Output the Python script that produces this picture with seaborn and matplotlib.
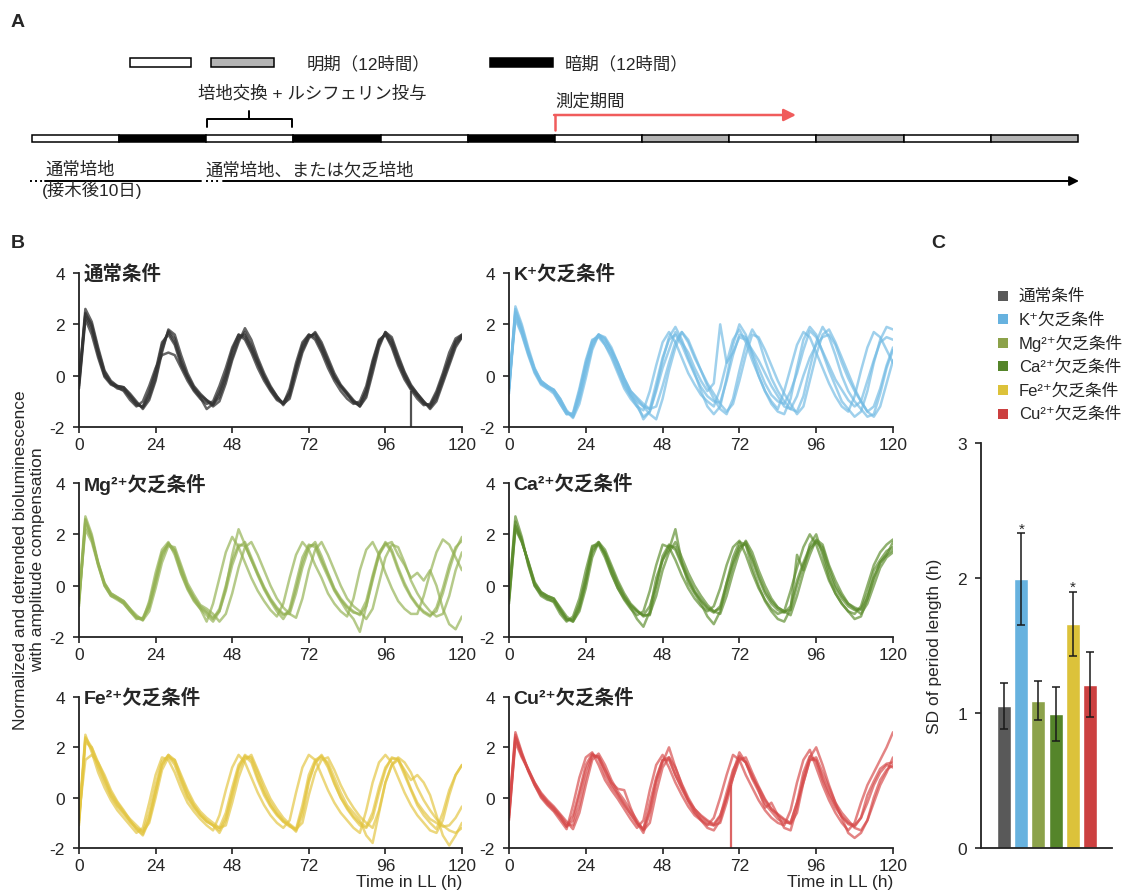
import numpy as np
import pandas as pd
import matplotlib
matplotlib.use("Agg")
import matplotlib.pyplot as plt
from matplotlib.patches import Rectangle
import seaborn as sns

sns.set_style("ticks")
FONT_LIST = ['Liberation Sans', 'DejaVu Sans', 'Noto Sans CJK JP']
plt.rcParams['font.family'] = FONT_LIST
plt.rcParams['axes.unicode_minus'] = False

# ---------------------------------------------------------------- data
TIME_H = np.arange(0, 121, 2)  # sampling every 2 h in constant light

conditions = ['通常条件', 'K⁺欠乏条件', 'Mg²⁺欠乏条件',
              'Ca²⁺欠乏条件', 'Fe²⁺欠乏条件', 'Cu²⁺欠乏条件']
trace_colors = ['#333333', '#72bbe4', '#93b152', '#5b8c2c', '#e3c540', '#d64a4a']
bar_colors = ['#595959', '#67b2df', '#8ca24a', '#55852a', '#dcc23a', '#cc4040']

normal_traces = [
    [-0.3, 2.45, 1.9, 0.9, 0.05, -0.3, -0.42, -0.5, -0.8, -1.1,
     -1.22, -0.7, 0.1, 1.2, 1.7, 1.3, 0.5, -0.05, -0.5, -0.8,
     -1.0, -1.15, -0.7, 0.0, 0.9, 1.5, 1.6, 1.1, 0.5, -0.05,
     -0.5, -0.85, -1.08, -0.7, 0.3, 1.1, 1.55, 1.6, 1.1, 0.5,
     -0.05, -0.45, -0.75, -1.0, -1.1, -0.6, 0.4, 1.3, 1.65, 1.3,
     0.6, 0.0, -0.45, -0.75, -1.05, -1.2, -0.8, -0.1, 0.6, 1.3,
     1.55],
    [-0.5, 2.2, 1.6, 0.7, -0.05, -0.35, -0.45, -0.6, -0.95, -1.2,
     -1.0, -0.4, 0.3, 0.8, 0.9, 0.8, 0.3, -0.2, -0.6, -0.9,
     -1.1, -1.0, -0.4, 0.3, 1.1, 1.6, 1.4, 0.9, 0.3, -0.2,
     -0.6, -0.95, -1.1, -0.5, 0.5, 1.3, 1.6, 1.4, 0.9, 0.3,
     -0.2, -0.6, -0.9, -1.1, -1.0, -0.4, 0.6, 1.4, 1.6, 1.1,
     0.4, -0.15, -0.55, -0.9, -1.15, -1.1, -0.6, 0.1, 0.9, 1.45,
     1.6],
    [-0.2, 2.6, 2.1, 1.1, 0.2, -0.2, -0.4, -0.45, -0.7, -1.0,
     -1.3, -0.95, -0.2, 0.9, 1.8, 1.6, 0.8, 0.1, -0.4, -0.7,
     -0.95, -1.2, -1.0, -0.3, 0.6, 1.3, 1.85, 1.4, 0.7, 0.1,
     -0.4, -0.8, -1.1, -0.9, 0.0, 0.9, 1.45, 1.7, 1.3, 0.7,
     0.1, -0.35, -0.65, -0.95, -1.2, -0.85, 0.1, 1.1, 1.7, 1.5,
     0.8, 0.15, -0.35, -0.7, -1.0, -1.3, -1.0, -0.3, 0.4, 1.1,
     1.5],
    [-0.4, 2.3, 1.8, 0.8, 0.0, -0.3, -0.5, -0.55, -0.85, -1.15,
     -1.2, -0.6, 0.2, 1.3, 1.6, 1.2, 0.4, -0.1, -0.55, -0.85,
     -1.3, -1.1, -0.6, 0.1, 1.0, 1.6, 1.5, 1.0, 0.45, -0.1,
     -0.55, -0.9, -1.05, -0.65, 0.35, 1.2, 1.6, 1.5, 1.0, 0.45,
     -0.1, -0.4, -0.7, -1.05, -1.15, -0.55, 0.5, 1.35, 1.6, 1.2,
     0.5, -0.05, -0.5, -0.8, -1.1, -1.15, -0.7, 0.0, 0.7, 1.35,
     1.6],
    [-0.2, 2.4, 2.0, 1.0, 0.15, -0.25, -0.4, -0.45, -0.75, -1.05,
     -1.25, -0.85, -0.1, 1.0, 1.75, 1.45, 0.6, 0.0, -0.45, -0.75,
     -0.95, -1.1, -0.85, -0.15, 0.7, 1.4, 1.7, 1.2, 0.6, 0.0,
     -0.45, -0.8, -1.15, -0.8, 0.2, 1.0, 1.5, 1.65, 1.2, 0.6,
     0.0, -0.4, -0.7, -1.0, -1.2, -0.75, 0.25, 1.2, 1.7, 1.4,
     0.7, 0.1, -0.4, -0.7, -1.0, -1.25, -0.9, -0.2, 0.5, 1.2,
     1.5],
]

k_traces = [
    [-0.5, 2.45, 1.75, 0.9, 0.2, -0.3, -0.45, -0.6, -1.0, -1.45,
     -1.55, -0.7, 0.4, 1.3, 1.55, 1.3, 0.9, 0.3, -0.3, -0.75,
     -1.0, -1.2, -1.3, -0.3, 0.7, 1.4, 1.6, 1.2, 0.6, 0.05,
     -0.45, -0.8, -1.0, -1.05, -0.2, 0.8, 1.6, 1.5, 0.9, 0.3,
     -0.3, -0.75, -1.0, -1.1, -0.6, 0.1, 1.0, 1.75, 1.5, 0.95,
     0.4, -0.15, -0.55, -0.95, -1.2, -1.0, -0.2, 0.6, 1.3, 1.5,
     1.4],
    [-0.4, 2.6, 1.9, 1.0, 0.25, -0.25, -0.4, -0.65, -1.1, -1.5,
     -1.45, -0.5, 0.6, 1.4, 1.5, 1.2, 0.7, 0.1, -0.5, -0.9,
     -1.2, -1.35, -0.6, 0.4, 1.3, 1.7, 1.3, 0.7, 0.1, -0.35,
     -0.75, -1.0, -1.2, -0.5, 0.5, 1.4, 1.8, 1.3, 0.6, 0.0,
     -0.6, -1.0, -1.3, -0.6, 0.3, 1.2, 1.7, 1.5, 0.9, 0.3,
     -0.3, -0.8, -1.2, -1.4, -0.8, 0.2, 1.1, 1.7, 1.5, 1.0,
     0.5],
    [-0.6, 2.3, 1.65, 0.85, 0.15, -0.3, -0.5, -0.55, -0.9, -1.35,
     -1.6, -0.95, 0.1, 1.1, 1.6, 1.45, 1.0, 0.5, -0.1, -0.6,
     -0.85, -1.1, -1.3, -1.2, -0.4, 0.5, 1.3, 1.7, 1.3, 0.7,
     0.2, -0.3, -0.7, -1.1, -1.4, -1.1, -0.2, 0.8, 1.6, 1.5,
     1.0, 0.4, -0.2, -0.7, -1.1, -1.5, -1.2, -0.2, 0.8, 1.6,
     1.8, 1.3, 0.7, 0.1, -0.5, -1.0, -1.4, -1.6, -1.2, -0.3,
     0.6],
    [-0.3, 2.2, 1.6, 0.8, 0.1, -0.35, -0.5, -0.7, -1.1, -1.5,
     -1.5, -0.6, 0.5, 1.35, 1.6, 1.2, 0.8, 0.2, -0.4, -0.8,
     -1.2, -1.6, -1.4, -0.5, 0.6, 1.5, 1.9, 1.4, 0.7, 0.1,
     -0.6, -1.2, -1.5, -1.2, -0.1, 1.2, 2.0, 1.6, 0.8, 0.0,
     -0.6, -1.1, -1.4, -1.5, -0.9, 0.3, 1.4, 1.9, 1.6, 0.9,
     0.2, -0.4, -1.0, -1.3, -1.6, -1.4, -0.6, 0.5, 1.4, 1.9,
     1.8],
    [-0.7, 2.7, 2.0, 1.1, 0.3, -0.2, -0.4, -0.55, -0.9, -1.4,
     -1.6, -0.8, 0.3, 1.2, 1.6, 1.4, 1.0, 0.45, -0.2, -0.7,
     -1.1, -1.7, -1.4, -0.6, 0.3, 1.0, 1.7, 1.3, 0.9, 0.3,
     -0.2, -0.6, -0.3, 2.0, 0.5, 0.9, 1.5, 1.4, 1.0, 0.6,
     0.1, -0.4, -0.8, -1.2, -1.3, -0.8, 0.0, 0.7, 1.2, 1.5,
     1.6, 1.2, 0.5, -0.1, -0.6, -1.0, -1.4, -1.2, -0.5, 0.4,
     1.1],
    [-0.5, 2.5, 1.8, 0.95, 0.25, -0.2, -0.4, -0.55, -0.95, -1.4,
     -1.65, -1.1, -0.1, 1.0, 1.6, 1.5, 1.1, 0.5, -0.1, -0.6,
     -0.9, -1.2, -1.5, -1.7, -0.9, 0.2, 1.1, 1.7, 1.4, 0.8,
     0.2, -0.4, -0.9, -1.3, -1.5, -0.9, 0.2, 1.2, 1.8, 1.4,
     0.6, -0.1, -0.6, -1.0, -1.3, -1.4, -0.8, 0.3, 1.3, 1.9,
     1.5, 0.8, 0.0, -0.6, -1.0, -1.3, -1.6, -1.5, -0.7, 0.3,
     1.0],
]

mg_traces = [
    [-0.6, 2.55, 1.85, 0.85, 0.05, -0.35, -0.5, -0.65, -0.95, -1.2,
     -1.3, -0.8, 0.2, 1.2, 1.65, 1.35, 0.6, -0.05, -0.5, -0.85,
     -1.05, -1.3, -0.9, 0.0, 1.0, 1.6, 1.55, 1.0, 0.45, -0.1,
     -0.55, -0.9, -1.15, -1.0, -0.1, 0.9, 1.55, 1.6, 1.0, 0.45,
     -0.15, -0.55, -0.85, -1.05, -1.1, -0.6, 0.4, 1.3, 1.65, 1.3,
     0.6, 0.0, -0.45, -0.8, -1.05, -1.2, -0.85, -0.1, 0.8, 1.5,
     1.75],
    [-0.4, 2.7, 2.0, 0.9, 0.1, -0.3, -0.45, -0.6, -0.9, -1.25,
     -1.35, -0.6, 0.5, 1.4, 1.7, 1.2, 0.45, -0.15, -0.6, -0.9,
     -1.4, -0.7, 0.3, 1.3, 1.9, 1.5, 0.9, 0.3, -0.2, -0.6,
     -0.95, -1.2, -0.7, 0.3, 1.2, 1.7, 1.4, 0.8, 0.3, -0.3,
     -0.7, -1.0, -1.2, -0.5, 0.6, 1.4, 1.7, 1.2, 0.5, -0.1,
     -0.6, -0.9, -1.1, -1.1, -0.4, 0.5, 1.3, 1.8, 1.6, 1.1,
     0.6],
    [-0.7, 2.4, 1.8, 0.9, 0.1, -0.3, -0.45, -0.6, -0.9, -1.15,
     -1.35, -1.0, -0.1, 0.9, 1.55, 1.5, 0.8, 0.1, -0.35, -0.75,
     -0.9, -1.1, -1.4, -1.1, -0.3, 0.7, 1.5, 1.7, 1.2, 0.6,
     0.0, -0.5, -0.85, -1.1, -1.25, -0.5, 0.6, 1.4, 1.7, 1.2,
     0.6, 0.0, -0.5, -0.8, -1.0, -1.3, -0.9, 0.1, 1.1, 1.6,
     1.5, 0.9, 0.2, -0.3, -0.7, -1.0, -1.2, -1.1, -0.4, 0.6,
     1.3],
    [-0.5, 2.2, 1.7, 0.8, 0.0, -0.4, -0.55, -0.7, -1.0, -1.3,
     -1.25, -0.7, 0.3, 1.3, 1.6, 1.3, 0.5, -0.1, -0.55, -0.9,
     -1.15, -1.4, -1.0, -0.1, 1.2, 2.2, 1.6, 1.0, 0.4, -0.15,
     -0.6, -1.0, -1.3, -0.9, 0.1, 1.1, 1.6, 1.5, 0.9, 0.35,
     -0.2, -0.6, -1.0, -1.3, -1.8, -0.8, 0.3, 1.2, 1.6, 1.7,
     1.2, 0.8, 0.3, 0.5, 0.2, 0.6, 0.0, -0.9, -1.5, -1.7,
     -1.2],
    [-0.8, 2.6, 1.9, 0.8, 0.0, -0.4, -0.5, -0.7, -1.0, -1.25,
     -1.3, -0.85, 0.1, 1.1, 1.65, 1.4, 0.7, 0.0, -0.45, -0.8,
     -1.0, -1.25, -1.0, -0.2, 0.8, 1.5, 1.7, 1.1, 0.5, -0.05,
     -0.5, -0.85, -1.1, -1.1, -0.3, 0.7, 1.45, 1.7, 1.15, 0.5,
     -0.1, -0.5, -0.8, -1.0, -1.15, -0.8, 0.2, 1.2, 1.7, 1.4,
     0.7, 0.1, -0.4, -0.75, -1.0, -1.15, -1.0, -0.3, 0.6, 1.4,
     1.9],
]

ca_traces = [
    [-0.5, 2.35, 1.75, 0.9, 0.05, -0.3, -0.45, -0.55, -0.95, -1.3,
     -1.35, -0.8, 0.2, 1.4, 1.65, 1.25, 0.6, 0.0, -0.45, -0.8,
     -1.0, -1.15, -1.15, 0.0, 1.15, 1.6, 1.4, 0.8, 0.25, -0.25,
     -0.6, -0.9, -1.05, -0.8, 0.1, 0.9, 1.55, 1.6, 1.0, 0.3,
     -0.3, -0.7, -0.95, -1.05, -0.8, 0.2, 0.9, 1.5, 1.75, 1.35,
     0.5, -0.1, -0.5, -0.8, -0.95, -0.9, -0.3, 0.6, 1.0, 1.35,
     1.5],
    [-0.3, 2.5, 1.8, 0.85, 0.0, -0.35, -0.5, -0.65, -1.1, -1.4,
     -1.2, -0.5, 0.6, 1.55, 1.6, 1.1, 0.45, -0.1, -0.55, -0.9,
     -1.15, -1.0, -0.2, 0.8, 1.6, 1.5, 1.0, 0.4, -0.1, -0.5,
     -0.8, -1.0, -0.8, -0.1, 0.8, 1.5, 1.75, 1.2, 0.5, -0.1,
     -0.55, -0.9, -1.1, -1.0, -0.2, 0.7, 1.5, 2.0, 1.6, 0.9,
     0.2, -0.3, -0.7, -1.0, -1.1, -0.8, 0.0, 0.8, 1.3, 1.6,
     1.8],
    [-0.6, 2.2, 1.7, 0.95, 0.15, -0.25, -0.4, -0.5, -0.85, -1.2,
     -1.4, -1.0, -0.1, 1.1, 1.7, 1.4, 0.8, 0.2, -0.3, -0.7,
     -0.95, -1.2, -1.1, -0.4, 0.6, 1.3, 1.7, 1.1, 0.5, 0.0,
     -0.4, -0.75, -1.0, -1.1, -0.4, 0.5, 1.3, 1.75, 1.3, 0.6,
     0.0, -0.5, -0.85, -1.0, -1.15, -0.4, 0.5, 1.2, 1.8, 1.6,
     0.8, 0.2, -0.3, -0.7, -0.9, -1.1, -0.7, 0.0, 0.7, 1.1,
     1.3],
    [-0.4, 2.7, 1.9, 0.8, 0.0, -0.4, -0.55, -0.6, -1.0, -1.35,
     -1.3, -0.7, 0.3, 1.5, 1.7, 1.2, 0.5, -0.1, -0.5, -0.85,
     -1.3, -1.6, -1.0, 0.3, 1.0, 1.4, 2.2, 0.9, 0.1, -0.3,
     -0.7, -1.2, -1.5, -1.0, 0.1, 1.1, 1.7, 1.6, 0.7, 0.0,
     -0.6, -1.0, -1.3, -1.4, -0.9, 1.2, 0.6, 1.6, 2.0, 1.2,
     0.3, -0.3, -0.7, -1.0, -1.3, -1.2, -0.5, 0.3, 0.9, 1.2,
     1.7],
    [-0.7, 2.3, 1.7, 0.95, 0.1, -0.25, -0.4, -0.5, -0.9, -1.3,
     -1.4, -0.9, 0.1, 1.3, 1.65, 1.3, 0.7, 0.1, -0.4, -0.75,
     -1.0, -1.15, -0.8, 0.0, 1.0, 1.55, 1.5, 0.9, 0.3, -0.2,
     -0.55, -0.85, -1.0, -0.9, -0.1, 0.8, 1.45, 1.7, 1.1, 0.4,
     -0.2, -0.6, -0.85, -1.0, -0.95, 0.0, 0.8, 1.4, 1.7, 1.5,
     0.7, 0.0, -0.4, -0.7, -0.85, -0.95, -0.5, 0.3, 0.9, 1.2,
     1.4],
]

fe_traces = [
    [-1.0, 2.35, 1.9, 1.2, 0.6, 0.05, -0.35, -0.65, -0.95, -1.2,
     -1.35, -0.6, 0.5, 1.45, 1.65, 1.3, 0.6, 0.0, -0.4, -0.7,
     -0.95, -1.1, -1.2, -0.6, 0.4, 1.3, 1.65, 1.4, 0.7, 0.1,
     -0.35, -0.7, -0.95, -1.15, -1.25, -0.3, 0.9, 1.5, 1.65, 1.2,
     0.55, 0.0, -0.4, -0.75, -1.0, -1.15, -0.6, 0.4, 1.2, 1.55,
     1.55, 1.0, 0.35, -0.2, -0.55, -0.85, -1.0, -1.15, -1.1, -0.8,
     -0.35],
    [-0.8, 2.5, 1.8, 1.0, 0.4, -0.1, -0.5, -0.8, -1.1, -1.4,
     -1.2, -0.2, 0.9, 1.6, 1.5, 1.0, 0.35, -0.2, -0.55, -0.85,
     -1.1, -1.3, -0.7, 0.3, 1.2, 1.7, 1.4, 0.8, 0.2, -0.3,
     -0.7, -1.0, -1.2, -0.9, 0.2, 1.2, 1.7, 1.5, 0.9, 0.3,
     -0.2, -0.6, -0.9, -1.2, -1.4, -0.5, 0.6, 1.4, 1.7, 1.4,
     0.8, 0.2, -0.3, -0.7, -1.0, -1.3, -1.4, -0.9, 0.1, 0.9,
     1.3],
    [-0.9, 2.2, 2.0, 1.4, 0.8, 0.2, -0.2, -0.55, -0.85, -1.1,
     -1.35, -1.0, 0.0, 1.1, 1.6, 1.5, 0.9, 0.3, -0.2, -0.55,
     -0.8, -1.0, -1.2, -1.1, -0.2, 0.8, 1.5, 1.7, 1.1, 0.5,
     -0.05, -0.45, -0.8, -1.05, -1.25, -1.0, 0.1, 1.0, 1.5, 1.6,
     1.1, 0.5, 0.0, -0.4, -0.75, -1.0, -1.2, -0.5, 0.6, 1.3,
     1.6, 1.4, 1.0, 0.4, -0.1, -0.5, -0.85, -1.1, -1.3, -1.4,
     -1.2],
    [-0.7, 1.5, 1.7, 1.4, 0.9, 0.3, -0.15, -0.5, -0.9, -1.25,
     -1.5, -0.9, 0.2, 1.3, 1.7, 1.5, 0.8, 0.2, -0.3, -0.65,
     -0.9, -1.1, -1.4, -0.9, 0.1, 1.1, 1.6, 1.6, 1.0, 0.3,
     -0.2, -0.6, -0.9, -1.1, -1.35, -0.7, 0.6, 1.4, 1.6, 1.4,
     0.8, 0.2, -0.3, -0.6, -0.9, -1.5, -1.8, -0.6, 0.6, 1.3,
     1.5, 1.1, 0.7, 0.9, 0.6, 0.1, -0.7, -1.5, -1.9, -1.5,
     -1.0],
    [-1.1, 2.4, 2.0, 1.3, 0.7, 0.1, -0.3, -0.6, -0.95, -1.25,
     -1.45, -0.8, 0.3, 1.3, 1.7, 1.4, 0.7, 0.05, -0.35, -0.7,
     -0.95, -1.1, -1.3, -0.8, 0.2, 1.2, 1.7, 1.5, 0.8, 0.2,
     -0.3, -0.65, -0.95, -1.1, -1.3, -0.5, 0.7, 1.4, 1.7, 1.3,
     0.6, 0.0, -0.45, -0.8, -1.1, -1.2, -0.8, 0.2, 1.1, 1.6,
     1.5, 0.9, 0.3, -0.3, -0.7, -1.0, -1.25, -0.6, 0.3, 0.9,
     1.3],
]

cu_traces = [
    [-0.7, 2.4, 1.7, 1.1, 0.55, 0.1, -0.2, -0.45, -0.75, -1.15,
     -0.7, 0.25, 1.3, 1.75, 1.55, 0.9, 0.45, 0.1, -0.3, -0.65,
     -1.0, -1.25, -0.2, 0.8, 1.5, 1.6, 0.9, 0.4, -0.1, -0.45,
     -0.7, -0.9, -1.05, -0.7, 0.0, 0.8, 1.65, 1.4, 0.8, 0.4,
     -0.1, -0.45, -0.65, -0.85, -1.0, -0.2, 0.6, 1.5, 1.5, 0.7,
     0.1, -0.4, -0.75, -1.05, -1.15, -0.8, 0.1, 0.65, 1.15, 1.35,
     1.4],
    [-0.5, 2.6, 1.8, 1.1, 0.5, 0.0, -0.3, -0.55, -0.9, -1.25,
     -0.3, 0.8, 1.6, 1.8, 1.3, 0.7, 0.3, -0.05, -0.45, -0.85,
     -1.2, -0.9, 0.3, 1.3, 1.7, 1.2, 0.6, 0.1, -0.35, -0.7,
     -0.9, -1.1, -0.8, 0.0, 0.9, 1.7, 1.5, 0.9, 0.4, -0.1,
     -0.5, -0.8, -1.0, -1.1, -0.5, 0.6, 1.5, 1.9, 1.2, 0.5,
     -0.1, -0.6, -1.0, -1.3, -1.0, -0.2, 0.5, 1.0, 1.5, 2.0,
     2.6],
    [-0.8, 2.2, 1.6, 1.1, 0.6, 0.2, -0.1, -0.35, -0.65, -0.95,
     -1.25, -0.6, 0.5, 1.5, 1.75, 1.3, 0.7, 0.25, -0.1, -0.5,
     -0.9, -1.3, -1.0, 0.2, 1.2, 1.6, 1.2, 0.55, 0.0, -0.45,
     -0.75, -0.95, -1.1, -1.0, -0.2, 0.8, 1.5, 1.6, 1.0, 0.45,
     -0.05, -0.45, -0.7, -0.9, -1.05, -0.6, 0.6, 1.5, 1.6, 1.0,
     0.4, -0.2, -0.6, -0.9, -1.2, -1.3, -0.9, 0.0, 0.7, 1.1,
     1.3],
    [-0.6, 2.5, 1.75, 1.05, 0.5, 0.05, -0.25, -0.5, -0.8, -1.15,
     -0.9, 0.1, 1.1, 1.7, 1.6, 1.1, 0.6, 0.35, 0.3, -0.4,
     -1.0, -1.4, -0.6, 0.6, 1.4, 2.0, 1.2, 0.5, -0.1, -0.55,
     -0.9, -1.2, -1.3, -0.9, 0.0, 1.0, 1.8, 1.4, 0.9, 0.3,
     -0.4, -0.2, -0.7, -1.2, -1.3, -0.4, 0.8, 1.6, 2.0, 1.3,
     0.5, -0.2, -0.8, -1.4, -1.6, -1.4, -0.9, -0.2, 0.5, 1.0,
     1.6],
    [-0.9, 2.35, 1.65, 1.15, 0.6, 0.15, -0.15, -0.4, -0.7, -1.05,
     -1.1, -0.3, 0.8, 1.65, 1.65, 1.1, 0.55, 0.15, -0.25, -0.65,
     -1.05, -1.25, -0.5, 0.7, 1.5, 1.5, 0.9, 0.35, -0.15, -0.6,
     -0.85, -1.05, -1.1, -0.75, 0.2, 1.1, 1.6, 1.4, 0.75, 0.25,
     -0.25, -0.55, -0.85, -1.0, -1.0, -0.2, 1.0, 1.65, 1.45, 0.8,
     0.2, -0.3, -0.75, -1.0, -1.1, -0.8, -0.2, 0.5, 1.0, 1.3,
     1.2],
]

# single-frame recording dropouts: (time, upper value, lower value)
dropouts = [(104, -0.6, -2.0), None, None, None, None, (69.5, 0.5, -2.0)]

# period-length variability per condition
sd_period = [1.05, 1.99, 1.09, 0.99, 1.66, 1.21]
sd_err = [0.17, 0.34, 0.145, 0.20, 0.24, 0.24]
significant = [False, True, False, False, True, False]

# light schedule of the pre-culture / measurement (12 h blocks)
schedule = ['L', 'D', 'L', 'D', 'L', 'D', 'L', 'S', 'L', 'S', 'L', 'S']
schedule_fill = {'L': 'white', 'D': 'black', 'S': '#b4b4b4'}

# ---------------------------------------------------------------- figure
W, H = 1122, 895
fig = plt.figure(figsize=(W / 100, H / 100), dpi=100)


def px_axes(x0, y0, x1, y1):
    return fig.add_axes([x0 / W, 1 - y1 / H, (x1 - x0) / W, (y1 - y0) / H])


ov = fig.add_axes([0, 0, 1, 1])
ov.set_xlim(0, W)
ov.set_ylim(H, 0)
ov.axis('off')

# ---- panel A: protocol schematic
ov.text(18, 22, 'A', fontsize=14, fontweight='bold', ha='center', va='center')

ov.add_patch(Rectangle((130, 59), 61, 9, fc='white', ec='black', lw=1.1))
ov.add_patch(Rectangle((211, 59), 63, 9, fc=schedule_fill['S'], ec='black', lw=1.1))
ov.text(307, 63.5, '明期（12時間）', fontsize=12.5, ha='left', va='center')
ov.add_patch(Rectangle((490, 59), 63, 9, fc='black', ec='black', lw=1.1))
ov.text(565, 63.5, '暗期（12時間）', fontsize=12.5, ha='left', va='center')

ov.text(312, 93, '培地交換 + ルシフェリン投与', fontsize=12.5, ha='center', va='center')
ov.plot([207, 207, 292, 292], [128, 119.5, 119.5, 128], color='black', lw=1.4,
        solid_joinstyle='round')
ov.plot([249.5, 249.5], [119.5, 112], color='black', lw=1.4)

bar_x0, bar_x1, bar_y, bar_h = 32, 1078, 136, 7
seg_w = (bar_x1 - bar_x0) / len(schedule)
for i, code in enumerate(schedule):
    ov.add_patch(Rectangle((bar_x0 + i * seg_w, bar_y), seg_w, bar_h,
                           fc=schedule_fill[code], ec='black', lw=1.1))

start_x = bar_x0 + 6 * seg_w
red = '#f05c5c'
ov.text(start_x, 102, '測定期間', fontsize=12.5, ha='left', va='center')
ov.plot([start_x, start_x], [131, 116], color=red, lw=1.8)
ov.annotate('', xy=(796, 116), xytext=(start_x - 0.9, 116),
            arrowprops=dict(arrowstyle='-|>', color=red, lw=1.8,
                            mutation_scale=18, shrinkA=0, shrinkB=0))

ov.text(45, 170, '通常培地', fontsize=12.5, ha='left', va='center')
ov.text(42, 190, '(接木後10日)', fontsize=12.5, ha='left', va='center')
ov.plot([30, 44], [182, 182], color='black', lw=1.4, ls=(0, (1, 1.6)))
ov.plot([45, 201], [182, 182], color='black', lw=1.4)
ov.text(205, 170, '通常培地、または欠乏培地', fontsize=12.5, ha='left', va='center')
ov.plot([206, 221], [182, 182], color='black', lw=1.4, ls=(0, (1, 1.6)))
ov.annotate('', xy=(1079, 182), xytext=(223, 182),
            arrowprops=dict(arrowstyle='-|>', color='black', lw=1.4,
                            mutation_scale=14, shrinkA=0, shrinkB=0))

# ---- panel B: bioluminescence traces
ov.text(18, 243, 'B', fontsize=14, fontweight='bold', ha='center', va='center')
fig.text(29 / W, 1 - 560 / H,
         'Normalized and detrended bioluminescence\nwith amplitude compensation',
         rotation=90, ha='center', va='center', multialignment='center',
         fontsize=12.5, linespacing=1.15)

all_traces = [normal_traces, k_traces, mg_traces, ca_traces, fe_traces, cu_traces]
boxes = [(79, 274, 462, 428), (509, 274, 893, 428),
         (79, 484, 462, 638), (509, 484, 893, 638),
         (79, 698, 462, 849), (509, 698, 893, 849)]

for k, (cond, traces, col, box) in enumerate(zip(conditions, all_traces,
                                                 trace_colors, boxes)):
    ax = px_axes(*box)
    df = pd.concat([pd.DataFrame({'time': TIME_H, 'value': tr, 'cell': j})
                    for j, tr in enumerate(traces)], ignore_index=True)
    sns.lineplot(data=df, x='time', y='value', units='cell', estimator=None,
                 color=col, alpha=0.68 if k else 0.75, lw=1.8, legend=False, ax=ax)
    if dropouts[k] is not None:
        t, hi, lo = dropouts[k]
        ax.vlines(t, lo, hi, color=col, lw=1.6, alpha=0.85)
    ax.set_xlim(0, 120)
    ax.set_ylim(-2, 4)
    ax.set_xticks(range(0, 121, 24))
    ax.set_yticks([-2, 0, 2, 4])
    sns.despine(ax=ax)
    for sp in ('left', 'bottom'):
        ax.spines[sp].set_linewidth(1.3)
        ax.spines[sp].set_color('#222222')
    ax.tick_params(direction='out', length=4, width=1.2, color='#222222',
                   labelsize=12.5, pad=3)
    ax.tick_params(axis='y', pad=6)
    ax.set_ylabel('')
    ax.set_xlabel('Time in LL (h)' if k >= 4 else '', loc='right',
                  fontsize=12.5, labelpad=1)
    ax.text(0.012, 1.0, cond, transform=ax.transAxes, ha='left', va='center',
            fontsize=14, fontweight='bold')

# ---- panel C: SD of period length
ov.text(938, 243, 'C', fontsize=14, fontweight='bold', ha='center', va='center')
for i, (cond, col) in enumerate(zip(conditions, bar_colors)):
    yc = 296.5 + i * 23.6
    ov.add_patch(Rectangle((998, yc - 5), 10, 10, fc=col, ec='none'))
    ov.text(1019, yc, cond, fontsize=12, ha='left', va='center')

axc = px_axes(981, 444, 1112, 849)
sns.barplot(x=conditions, y=sd_period, hue=conditions,
            palette=dict(zip(conditions, bar_colors)), saturation=1,
            width=0.82, legend=False, errorbar=None, ax=axc)
xpos = np.arange(len(conditions))
axc.errorbar(xpos, sd_period, yerr=sd_err, fmt='none', ecolor='#1a1a1a',
             elinewidth=1.1, capsize=3, capthick=1.1, zorder=3)
for i, flag in enumerate(significant):
    if flag:
        axc.text(xpos[i], sd_period[i] + sd_err[i] - 0.02, '*',
                 ha='center', va='bottom', fontsize=11)
axc.set_ylim(0, 3)
axc.set_xlim(-1.34, 6.28)
axc.set_xticks([])
axc.set_yticks([0, 1, 2, 3])
sns.despine(ax=axc)
for sp in ('left', 'bottom'):
    axc.spines[sp].set_linewidth(1.3)
    axc.spines[sp].set_color('#222222')
axc.tick_params(axis='y', direction='out', length=4, width=1.2,
                color='#222222', labelsize=12.5, pad=6)
axc.set_ylabel('SD of period length (h)', fontsize=12.5)
axc.yaxis.set_label_coords(-0.30, 0.5)

fig.savefig('out.png', dpi=100)
